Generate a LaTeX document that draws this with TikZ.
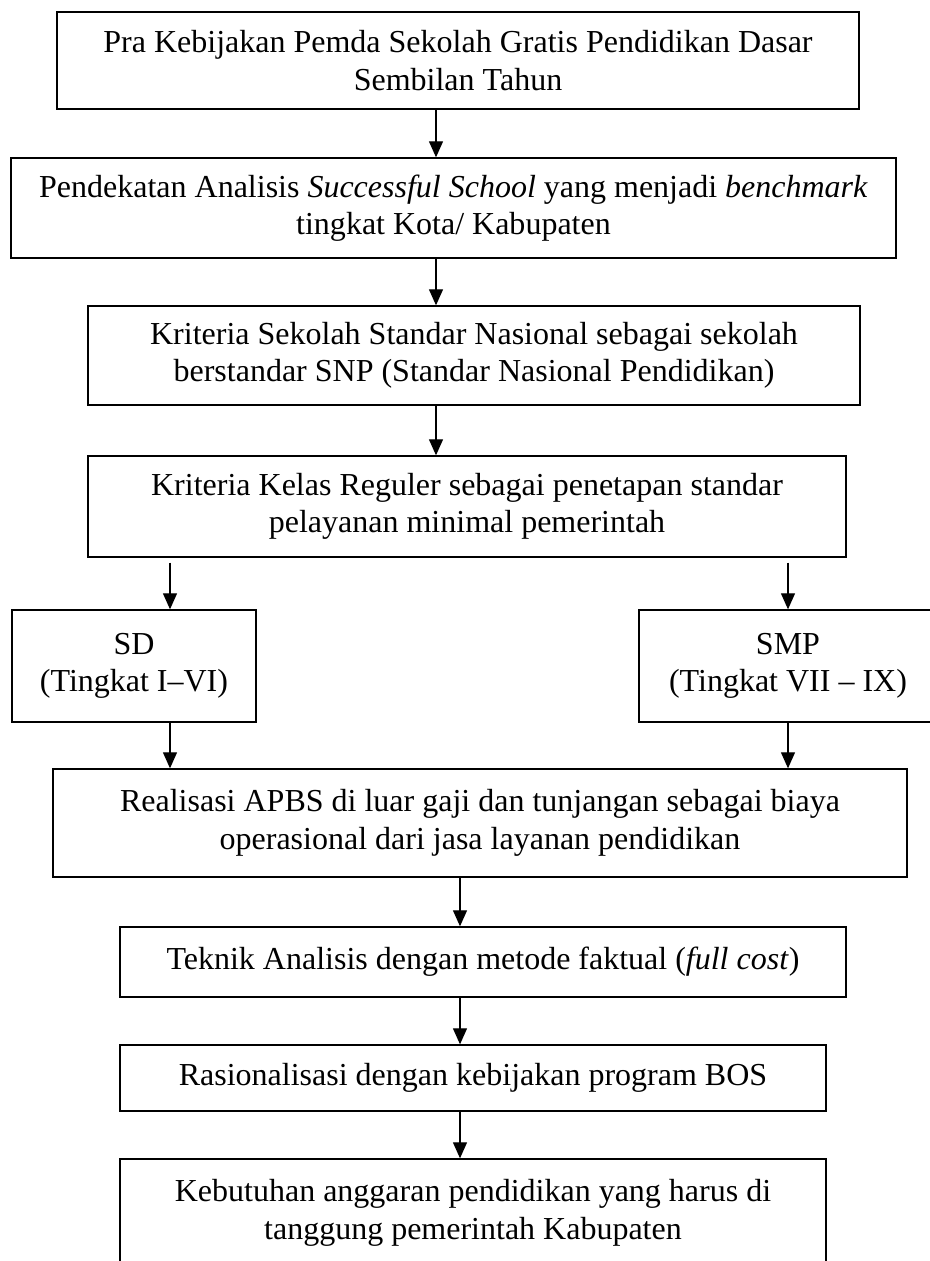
\documentclass[tikz,border=0pt]{standalone}
\usepackage{fontspec}
\setmainfont{Liberation Serif}
\usepackage{tikz}
\usetikzlibrary{arrows.meta,positioning,calc}
\tikzset{
  box/.style={rectangle,draw=black,line width=0.55pt,align=center,inner sep=0pt,
              font=\fontsize{12.8}{15}\selectfont},
  sz/.style 2 args={minimum width=#1*0.4pt,minimum height=#2*0.4pt},
  flow/.style={-{Triangle[length=6.4pt,width=5.6pt]},line width=0.45pt,draw=black},
}
\begin{document}
\begin{tikzpicture}[x=0.4pt,y=-0.4pt]
  \useasboundingbox (0,0) rectangle (930,1261);
  \clip (0,0) rectangle (930,1261);
  \node[box,sz={802}{97}] (pra) at (458,60.5) {Pra Kebijakan Pemda Sekolah Gratis Pendidikan Dasar\\Sembilan Tahun};
  \node[box,sz={885}{100}] (pend) at (453.5,208) {Pendekatan Analisis \textit{Successful School} yang menjadi \textit{benchmark}\\tingkat Kota/ Kabupaten};
  \node[box,sz={772}{99}] (snp) at (474,355.5) {Kriteria Sekolah Standar Nasional sebagai sekolah\\berstandar SNP (Standar Nasional Pendidikan)};
  \node[box,sz={758}{101}] (reg) at (467,506.5) {Kriteria Kelas Reguler sebagai penetapan standar\\pelayanan minimal pemerintah};
  \node[box,sz={244}{112}] (sd) at (134,666) {SD\\(Tingkat I--VI)};
  \node[box,sz={298}{112}] (smp) at (788,666) {SMP\\(Tingkat VII -- IX)};
  \node[box,sz={854}{108}] (real) at (480,823) {Realisasi APBS di luar gaji dan tunjangan sebagai biaya\\operasional dari jasa layanan pendidikan};
  \node[box,sz={726}{70}] (tek) at (483,962) {Teknik Analisis dengan metode faktual (\textit{full cost})};
  \node[box,sz={706}{66}] (ras) at (473,1078) {Rasionalisasi dengan kebijakan program BOS};
  \node[box,sz={706}{108}] (keb) at (473,1213) {Kebutuhan anggaran pendidikan yang harus di\\tanggung pemerintah Kabupaten};
  % arrow columns
  \coordinate (ax) at (436,0);
  \coordinate (bx) at (460,0);
  \coordinate (sdx) at (170,0);
  \coordinate (smpx) at (788,0);
  \draw[flow] (pra.south -| ax) -- (pend.north -| ax);
  \draw[flow] (pend.south -| ax) -- (snp.north -| ax);
  \draw[flow] (snp.south -| ax) -- (reg.north -| ax);
  \draw[flow] ([yshift=-2pt]reg.south -| sdx) -- (sd.north -| sdx);
  \draw[flow] ([yshift=-2pt]reg.south -| smpx) -- (smp.north -| smpx);
  \draw[flow] (sd.south -| sdx) -- (real.north -| sdx);
  \draw[flow] (smp.south -| smpx) -- (real.north -| smpx);
  \draw[flow] (real.south -| bx) -- (tek.north -| bx);
  \draw[flow] (tek.south -| bx) -- (ras.north -| bx);
  \draw[flow] (ras.south -| bx) -- (keb.north -| bx);
\end{tikzpicture}
\end{document}
